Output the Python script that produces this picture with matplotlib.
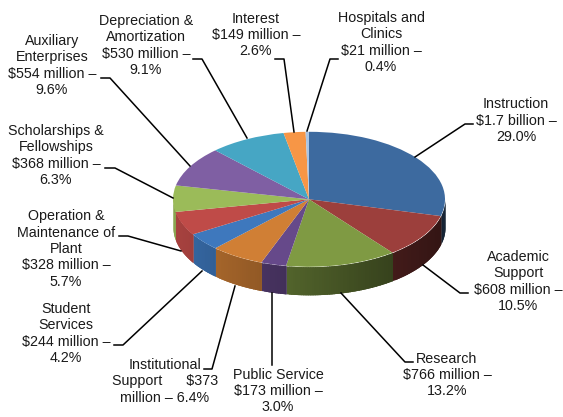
import numpy as np
import matplotlib
matplotlib.use("Agg")
import matplotlib.pyplot as plt

plt.rcParams['font.family'] = ['Liberation Sans', 'DejaVu Sans']

shares = [29.0, 10.5, 13.2, 3.0, 6.4, 4.2, 5.7, 6.3, 9.6, 9.1, 2.6, 0.4]

colors = ['#3d6a9f', '#9c3f3c', '#7f9a43', '#66498a', '#d07f35', '#3e78bd',
          '#bf4b48', '#9bbb59', '#7f5fa3', '#46a6c4', '#f79646', '#a9c4e4']

labels = [
    'Instruction\n$1.7 billion –\n29.0%',
    'Academic\nSupport\n$608 million –\n10.5%',
    'Research\n$766 million –\n13.2%',
    'Public Service\n$173 million –\n3.0%',
    'Institutional\nSupport      $373\nmillion – 6.4%',
    'Student\nServices\n$244 million –\n4.2%',
    'Operation &\nMaintenance of\nPlant\n$328 million –\n5.7%',
    'Scholarships &\nFellowships\n$368 million –\n6.3%',
    'Auxiliary\nEnterprises\n$554 million –\n9.6%',
    'Depreciation &\nAmortization\n$530 million –\n9.1%',
    'Interest\n$149 million –\n2.6%',
    'Hospitals and\nClinics\n$21 million –\n0.4%',
]

# label centres and leader lines, in pixels of the 563x417 picture
label_pos = [(516, 120.5), (518, 281.5), (447, 375), (278, 391), (165, 381.5), (66, 333.5),
             (66, 249), (56, 155.5), (52, 65.5), (146, 45.5), (256, 35), (381, 42.5)]
leaders = [
    [(473, 124), (465, 124), (415, 157)],
    [(468, 293), (460, 293), (423, 265)],
    [(413, 362), (405, 362), (341, 293)],
    [(272, 365), (272, 293)],
    [(204, 369), (212, 369), (235, 286)],
    [(114, 345), (123, 345), (202, 271)],
    [(119, 236), (128, 236), (181, 251)],
    [(105, 168), (115, 168), (173, 198)],
    [(101, 78), (110, 78), (190, 166)],
    [(193, 59), (202, 59), (247, 138)],
    [(275, 59), (284, 59), (294, 132)],
    [(338, 59), (330, 59), (307, 131)],
]

# pie geometry in pixels
cx, cy, rx, ry, depth = 309, 199.3, 136, 67.5, 28


def side_shade(x):
    # light on the left of the rim, dark on the right
    return min(0.9, 0.6 - 0.28 * x)


def draw_side(ax):
    edges = np.cumsum([0] + shares) / sum(shares) * 360
    h = depth / ry
    for i, col in enumerate(colors):
        base = np.array(matplotlib.colors.to_rgb(col))
        t0, t1 = 90 - edges[i + 1], 90 - edges[i]
        # strips overlap the next one so no seams show
        for a in np.arange(t0, t1, 1.0):
            b = min(a + 2.5, t1)
            if np.sin(np.radians(a + 0.5)) > 0:
                continue
            th = np.radians(np.linspace(a, b, 4))
            x = np.cos(th)
            y = np.sin(th)
            c = base * side_shade(np.cos(np.radians(a + 0.5)))
            ax.fill_between(x, y, y - h, color=c, lw=0, zorder=1)


fig = plt.figure(figsize=(5.63, 4.17), dpi=100)
ax = fig.add_axes([0, 0, 1, 1])
draw_side(ax)
wedges, _ = ax.pie(shares, colors=colors, startangle=90, counterclock=False,
                   wedgeprops={'linewidth': 0, 'zorder': 2})
ax.set_aspect('auto')
ax.set_xlim(-cx / rx, (563 - cx) / rx)
ax.set_ylim((cy - 417) / ry, cy / ry)
ax.axis('off')

over = fig.add_axes([0, 0, 1, 1])
over.set_xlim(0, 563)
over.set_ylim(417, 0)
over.axis('off')
over.patch.set_alpha(0)

for text, (tx, ty) in zip(labels, label_pos):
    over.text(tx, ty, text, ha='center', va='center', ma='center', fontsize=10.3,
              linespacing=1.22, color='#1a1a1a')

for pts in leaders:
    xs, ys = zip(*pts)
    over.plot(xs, ys, color='black', lw=1.1, solid_joinstyle='round')

fig.savefig('out.png', dpi=100)
